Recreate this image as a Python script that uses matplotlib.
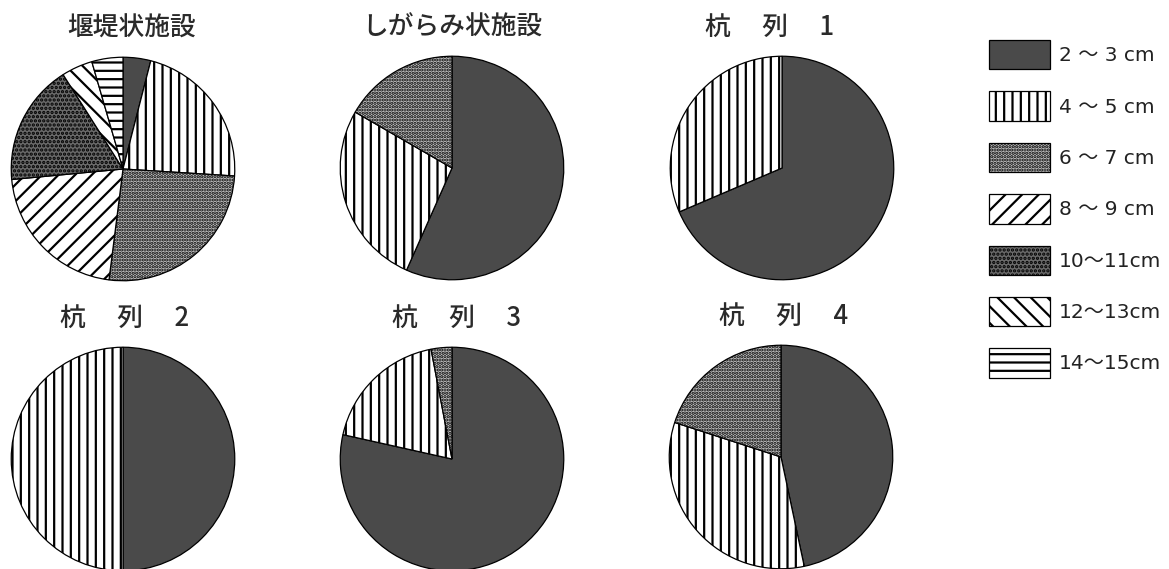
import matplotlib
matplotlib.use("Agg")
import matplotlib.pyplot as plt

plt.rcParams['font.family'] = ['Noto Sans CJK JP', 'DejaVu Sans']
plt.rcParams['hatch.linewidth'] = 1.6

# size classes (legend labels)
classes = ['2 ～ 3 cm', '4 ～ 5 cm', '6 ～ 7 cm', '8 ～ 9 cm',
           '10～11cm', '12～13cm', '14～15cm']

# share of each class per site
titles = ['堰堤状施設', 'しがらみ状施設', '杭　 列　 1',
          '杭　 列　 2', '杭　 列　 3', '杭　 列　 4']
entei = [4, 22, 26, 21.5, 17.5, 4.5, 4.5]
shigarami = [17, 8, 5]
kui1 = [24, 11]
kui2 = [50, 50]
kui3 = [78.5, 18.5, 3]
kui4 = [7, 5, 3]
site_values = [entei, shigarami, kui1, kui2, kui3, kui4]

# fill style for each class
faces = ['#4a4a4a', 'white', '#c4c4c4', 'white', '#6a6a6a', 'white', 'white']
hatches = [None, '||', '.....', '//', '....', '\\\\', '--']

W, H = 1169, 569
fig = plt.figure(figsize=(W / 100, H / 100), dpi=100)

centers = [(123, 169), (452, 168), (782, 168),
           (123, 459), (452, 459), (781, 457)]
title_x = [132, 452, 770, 125, 457, 784]
r = 114

first_wedges = None
for (cx, cy), tx, vals, title in zip(centers, title_x, site_values, titles):
    ax = fig.add_axes([(cx - r) / W, 1 - (cy + r) / H, 2 * r / W, 2 * r / H])
    n = len(vals)
    wedges, _ = ax.pie(vals, startangle=90, counterclock=False, radius=1,
                       colors=faces[:n],
                       wedgeprops=dict(edgecolor='black', linewidth=0.9))
    for w, h in zip(wedges, hatches[:n]):
        if h:
            w.set_hatch(h)
    ax.set_xlim(-1.02, 1.02)
    ax.set_ylim(-1.02, 1.02)
    ax.set_aspect('equal')
    ax.axis('off')
    fig.text(tx / W, 1 - (cy - 141) / H, title, ha='center', va='center',
             fontsize=18.5, fontweight='medium', color='#2a2a2a')
    if first_wedges is None:
        first_wedges = wedges

leg = fig.legend(first_wedges, classes, loc='upper left',
                 bbox_to_anchor=(981 / W, 1 - 32 / H), frameon=False,
                 prop={'family': ['DejaVu Sans', 'Noto Sans CJK JP'], 'size': 14.5},
                 handlelength=3.03, handleheight=1.87,
                 labelspacing=1.09, handletextpad=0.44, borderaxespad=0)
for t in leg.get_texts():
    t.set_color('#222222')

fig.savefig('out.png', dpi=100, facecolor='white')
